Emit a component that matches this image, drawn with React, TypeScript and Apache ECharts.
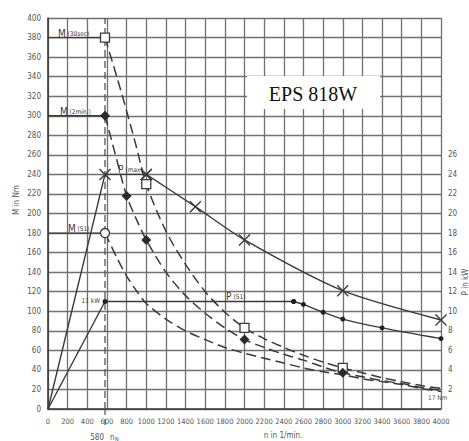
import React, { useEffect, useRef } from "react";
import * as echarts from "echarts";

// ---- data ----
const torqueSpeed = [580, 700, 800, 900, 1000, 1200, 1400, 1600, 1800, 2000, 2200, 2400, 2600, 2800, 3000, 3200, 3400, 3600, 3800, 4000];
const m30Torque = [380, 340, 305, 268, 230, 182, 148, 120, 99, 83, 72, 63, 55, 48, 42, 37, 32, 28, 24, 21];
const m30Marks = [580, 1000, 2000, 3000];
const m2Torque = [300, 255, 218, 194, 173, 140, 116, 98, 83, 71, 63, 56, 50, 43, 37, 33, 29, 26, 22, 19];
const m2Marks = [580, 800, 1000, 2000, 3000];
const s1Torque = [180, 155, 136, 121, 108, 92, 80, 71, 63, 57, 52, 47, 42, 38, 35, 31, 28, 25, 21, 18];
const s1Marks = [580];

const pMaxSpeed = [0, 580, 1000, 1500, 2000, 3000, 4000];
const pMaxKw = [0, 24, 24, 20.7, 17.3, 12.1, 9.1];
const pMaxMarks = [580, 1000, 1500, 2000, 3000, 4000];

const pS1Speed = [0, 580, 2500, 2600, 2800, 3000, 3400, 4000];
const pS1Kw = [0, 11, 11, 10.7, 9.9, 9.2, 8.3, 7.2];
const pS1Marks = [580, 2500, 2600, 2800, 3000, 3400, 4000];

const levelTorques = [380, 300, 180];
const ratedSpeed = 580;

const xMax = 4000;
const yMax = 400;
const kwMax = 40;
const rightLabels = [2, 4, 6, 8, 10, 12, 14, 16, 18, 20, 22, 24, 26];

// ---- layout ----
const W = 469, H = 441;
const GL = 48, GR = 441, GT = 18, GB = 409;
const gx = (v: number) => GL + (v / xMax) * (GR - GL);
const gy = (v: number) => GB - (v / yMax) * (GB - GT);

const INK = "#3a3a3a";
const GRIDC = "#707070";
const LBL = "#555";
const FONT = "'Liberation Sans Narrow', 'DejaVu Sans Condensed', 'Liberation Sans', sans-serif";

const X_PATH = "path://M0,0L10,10M10,0L0,10";

function build(xs: number[], ys: number[], marks: number[], symbol: string) {
  return xs.map((x, i) => ({ value: [x, ys[i]], symbol: marks.includes(x) ? symbol : "none" }));
}

function label(main: string, sub: string, x: number, y: number, off: number) {
  return [
    { type: "text", x, y, z: 50, style: { text: main, fontSize: 10, fontFamily: FONT, fill: INK, verticalAlign: "bottom", align: "left" } },
    { type: "text", x: x + off, y: y - 1, z: 50, style: { text: sub, fontSize: 6.5, fontFamily: FONT, fill: INK, verticalAlign: "bottom", align: "left" } },
  ];
}

export default function App() {
  const ref = useRef<HTMLDivElement>(null);
  useEffect(() => {
    if (!ref.current) return;
    const chart = echarts.init(ref.current, null, { renderer: "svg" });

    const dashed = {
      type: [10, 5] as any,
      width: 1.5,
      color: INK,
    };

    const pMaxRise = pMaxSpeed.map((x, i) => i).filter((i) => pMaxSpeed[i] <= 1000);
    const pMaxFall = pMaxSpeed.map((x, i) => i).filter((i) => pMaxSpeed[i] >= 1000);
    const pS1Rise = pS1Speed.map((x, i) => i).filter((i) => pS1Speed[i] <= 2500);
    const pS1Fall = pS1Speed.map((x, i) => i).filter((i) => pS1Speed[i] >= 2500);

    const xSym = { color: "none", borderColor: INK, borderWidth: 1.4 };

    const series: any[] = [
      ...levelTorques.map((t) => ({
        type: "line",
        data: [[0, t], [ratedSpeed, t]],
        symbol: "none",
        lineStyle: { color: INK, width: 1.3 },
        silent: true,
        z: 3,
      })),
      {
        type: "line",
        data: [[ratedSpeed, 0], [ratedSpeed, yMax]],
        symbol: "none",
        lineStyle: { color: "#555", width: 1.3, type: [7, 4] },
        silent: true,
        z: 2,
      },
      {
        name: "M30",
        type: "line",
        data: build(torqueSpeed, m30Torque, m30Marks, "rect"),
        smooth: 0.3,
        showAllSymbol: true,
        symbolSize: 9,
        itemStyle: { color: "#fff", borderColor: INK, borderWidth: 1.3 },
        lineStyle: dashed,
        z: 4,
      },
      {
        name: "M2",
        type: "line",
        data: build(torqueSpeed, m2Torque, m2Marks, "diamond"),
        smooth: 0.3,
        showAllSymbol: true,
        symbolSize: 10,
        itemStyle: { color: "#2a2a2a" },
        lineStyle: dashed,
        z: 4,
      },
      {
        name: "S1",
        type: "line",
        data: build(torqueSpeed, s1Torque, s1Marks, "circle"),
        smooth: 0.3,
        showAllSymbol: true,
        symbolSize: 9,
        itemStyle: { color: "#fff", borderColor: INK, borderWidth: 1.3 },
        lineStyle: dashed,
        z: 4,
      },
      {
        type: "line",
        yAxisIndex: 1,
        data: pMaxRise.map((i) => ({ value: [pMaxSpeed[i], pMaxKw[i]], symbol: pMaxMarks.includes(pMaxSpeed[i]) ? X_PATH : "none" })),
        showAllSymbol: true,
        symbolSize: 11,
        itemStyle: xSym,
        lineStyle: { color: INK, width: 1.4 },
        z: 5,
      },
      {
        type: "line",
        yAxisIndex: 1,
        data: pMaxFall.map((i) => ({ value: [pMaxSpeed[i], pMaxKw[i]], symbol: pMaxMarks.includes(pMaxSpeed[i]) ? X_PATH : "none" })),
        smooth: 0.25,
        showAllSymbol: true,
        symbolSize: 11,
        itemStyle: xSym,
        lineStyle: { color: INK, width: 1.4 },
        z: 5,
      },
      {
        type: "line",
        yAxisIndex: 1,
        data: pS1Rise.map((i) => ({ value: [pS1Speed[i], pS1Kw[i]], symbol: pS1Marks.includes(pS1Speed[i]) ? "circle" : "none" })),
        showAllSymbol: true,
        symbolSize: 5,
        itemStyle: { color: "#222" },
        lineStyle: { color: INK, width: 1.4 },
        z: 5,
      },
      {
        type: "line",
        yAxisIndex: 1,
        data: pS1Fall.map((i) => ({ value: [pS1Speed[i], pS1Kw[i]], symbol: pS1Marks.includes(pS1Speed[i]) ? "circle" : "none" })),
        smooth: 0.25,
        showAllSymbol: true,
        symbolSize: 5,
        itemStyle: { color: "#222" },
        lineStyle: { color: INK, width: 1.4 },
        z: 5,
      },
    ];

    const graphic: any[] = [
      { type: "line", z: 1, shape: { x1: gx(ratedSpeed), y1: GB, x2: gx(ratedSpeed), y2: 429 }, style: { stroke: "#555", lineWidth: 1.2, lineDash: [6, 4] } },
      { type: "text", x: gx(ratedSpeed) - 1, y: 437, style: { text: "580", fontSize: 8, fontFamily: FONT, fill: LBL, align: "right", verticalAlign: "middle" } },
      { type: "text", x: gx(ratedSpeed) + 5, y: 437, style: { text: "n", fontSize: 8, fontFamily: FONT, fill: LBL, align: "left", verticalAlign: "middle" } },
      { type: "text", x: gx(ratedSpeed) + 10, y: 439, style: { text: "N", fontSize: 5.5, fontFamily: FONT, fill: LBL, align: "left", verticalAlign: "middle" } },
      { type: "text", x: 283, y: 435, style: { text: "n in 1/min.", fontSize: 8, fontFamily: FONT, fill: LBL, align: "center", verticalAlign: "middle" } },
      { type: "text", x: 16, y: 200, rotation: Math.PI / 2, style: { text: "M in Nm", fontSize: 8, fontFamily: FONT, fill: LBL, align: "center", verticalAlign: "middle" } },
      { type: "text", x: 465, y: 282, rotation: Math.PI / 2, style: { text: "P in kW", fontSize: 8, fontFamily: FONT, fill: LBL, align: "center", verticalAlign: "middle" } },
      { type: "text", x: 428, y: 398, z: 50, style: { text: "17 Nm", fontSize: 6.5, fontFamily: FONT, fill: LBL, align: "left", verticalAlign: "middle" } },
      ...label("M", "(30sec)", 58, gy(380) + 0.5, 9.5),
      ...label("M", "(2min.)", 60, gy(300) + 0.5, 9.5),
      ...label("M", "(S1)", 68, gy(180) + 0.5, 9.5),
      ...label("P", "(max)", 118, gy(240) + 0.5, 7.5),
      ...label("P", "(S1)", 226, gy(110) + 0.5, 7.5),
      { type: "text", x: 100, y: gy(110), z: 50, style: { text: "11 kW", fontSize: 6.5, fontFamily: FONT, fill: INK, align: "right", verticalAlign: "middle" } },
      { type: "rect", z: 60, shape: { x: 247, y: 76, width: 133, height: 33 }, style: { fill: "#fff" } },
      { type: "text", z: 61, x: 313, y: 94, style: { text: "EPS 818W", fontSize: 20, fontFamily: "'Liberation Serif', 'DejaVu Serif', serif", fill: "#111", align: "center", verticalAlign: "middle" } },
    ];

    chart.setOption({
      animation: false,
      backgroundColor: "#fff",
      grid: { left: GL, right: W - GR, top: GT, bottom: H - GB },
      xAxis: {
        type: "value",
        min: 0,
        max: xMax,
        interval: 200,
        axisLine: { show: true, lineStyle: { color: INK, width: 1.6 } },
        axisTick: { show: false },
        splitLine: { show: true, lineStyle: { color: GRIDC, width: 1.3 } },
        axisLabel: {
          fontSize: 7.5,
          color: LBL,
          fontFamily: FONT,
          margin: 8,
          showMaxLabel: true,
          showMinLabel: true,
          hideOverlap: false,
          formatter: (v: number) => String(v),
        },
      },
      yAxis: [
        {
          type: "value",
          min: 0,
          max: yMax,
          interval: 20,
          axisLine: { show: true, lineStyle: { color: INK, width: 1.6 } },
          axisTick: { show: false },
          splitLine: { show: true, lineStyle: { color: GRIDC, width: 1.3 } },
          axisLabel: { fontSize: 8, color: LBL, fontFamily: FONT, margin: 7, formatter: (v: number) => String(v) },
        },
        {
          type: "value",
          position: "right",
          min: 0,
          max: kwMax,
          interval: 2,
          axisLine: { show: false },
          axisTick: { show: false },
          splitLine: { show: false },
          axisLabel: {
            fontSize: 8,
            color: LBL,
            fontFamily: FONT,
            margin: 7,
            formatter: (v: number) => (rightLabels.includes(v) ? String(v) : ""),
          },
        },
      ],
      series,
      graphic,
    });
    return () => chart.dispose();
  }, []);
  return <div ref={ref} style={{ position: "absolute", left: 0, top: 0, width: W, height: H }} />;
}
